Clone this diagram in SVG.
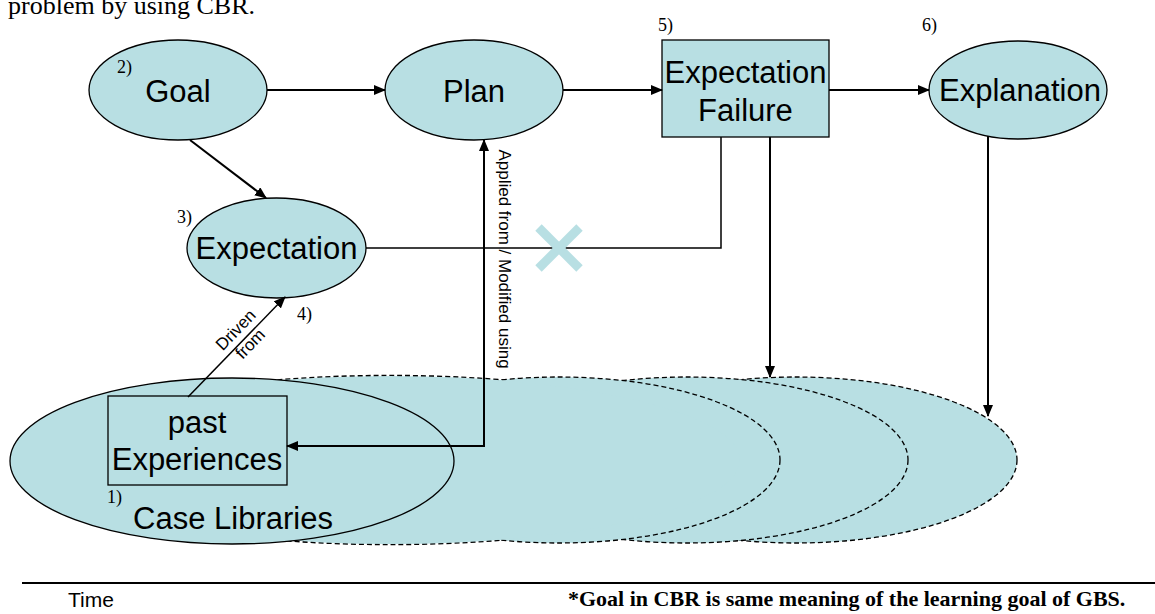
<svg xmlns="http://www.w3.org/2000/svg" width="1155" height="614" viewBox="0 0 1155 614">
<style>
.fill{fill:#b8dfe3;stroke:#000;stroke-width:1.3}
.dash{fill:#b8dfe3;stroke:#000;stroke-width:1.3;stroke-dasharray:5,3}
.dashline{fill:none;stroke:#000;stroke-width:2.6;stroke-dasharray:5,3}
.dashfill{fill:#b8dfe3;stroke:none}
.lbl{font-family:"Liberation Sans",Arial,sans-serif;font-size:31px;fill:#000;text-anchor:middle}
.num{font-family:"Liberation Serif","Times New Roman",serif;font-size:18px;fill:#000}
.small{font-family:"Liberation Sans",Arial,sans-serif;font-size:17px;fill:#000;text-anchor:middle}
.conn{fill:none;stroke:#000;stroke-width:2}
</style>
<defs>
<marker id="ah" markerWidth="12" markerHeight="10" refX="11" refY="5" orient="auto-start-reverse" markerUnits="userSpaceOnUse">
<path d="M0,0 L12,5 L0,10 z" fill="#000"/>
</marker>
<ellipse id="big" cx="390" cy="460" rx="350" ry="84"/>
</defs>
<rect width="1155" height="614" fill="#fff"/>
<text x="8" y="14" font-family="'Liberation Serif','Times New Roman',serif" font-size="26" fill="#000">problem by using CBR.</text>

<g id="case-libraries">
<use href="#big" class="dashline"/>
<ellipse class="dash" cx="796" cy="460" rx="221" ry="83"/>
<ellipse class="dash" cx="687" cy="460" rx="221" ry="83"/>
<ellipse class="dash" cx="559" cy="460" rx="221" ry="83"/>
<use href="#big" class="dashfill"/>
<ellipse class="fill" cx="232" cy="461" rx="222" ry="83"/>
<text class="lbl" x="233" y="529">Case Libraries</text>
<text class="num" x="107" y="503">1)</text>
</g>

<g id="past-experiences">
<rect class="fill" x="108" y="396" width="179" height="89"/>
<text class="lbl" x="197" y="433">past</text>
<text class="lbl" x="197" y="470">Experiences</text>
</g>

<g id="goal">
<ellipse class="fill" cx="178" cy="90" rx="89" ry="50"/>
<text class="lbl" x="178" y="102">Goal</text>
<text class="num" x="117" y="73">2)</text>
</g>

<g id="plan">
<ellipse class="fill" cx="474" cy="90" rx="89" ry="50"/>
<text class="lbl" x="474" y="102">Plan</text>
</g>

<g id="expectation-failure">
<rect class="fill" x="662" y="40" width="167" height="97"/>
<text class="lbl" x="745.5" y="83">Expectation</text>
<text class="lbl" x="745.5" y="121">Failure</text>
<text class="num" x="658" y="31">5)</text>
</g>

<g id="explanation">
<ellipse class="fill" cx="1018" cy="90" rx="89" ry="49"/>
<text class="lbl" x="1020" y="101">Explanation</text>
<text class="num" x="922" y="31">6)</text>
</g>

<g id="expectation">
<ellipse class="fill" cx="276.5" cy="248" rx="89.5" ry="50"/>
<text class="lbl" x="276.5" y="259">Expectation</text>
<text class="num" x="177" y="223">3)</text>
</g>

<g id="connectors">
<line class="conn" x1="267" y1="90" x2="385" y2="90" marker-end="url(#ah)"/>
<line class="conn" x1="563" y1="90" x2="662" y2="90" marker-end="url(#ah)"/>
<line class="conn" x1="829" y1="90" x2="929" y2="90" marker-end="url(#ah)"/>
<line class="conn" x1="190" y1="140" x2="266" y2="198" marker-end="url(#ah)"/>
<polyline class="conn" points="366,248 721,248 721,137" style="stroke-width:1.5"/>
<polyline class="conn" points="484,140 484,446 287,446" marker-start="url(#ah)" marker-end="url(#ah)"/>
<line class="conn" x1="770" y1="137" x2="770" y2="377" marker-end="url(#ah)"/>
<line class="conn" x1="988" y1="136" x2="988" y2="416" marker-end="url(#ah)"/>
<line class="conn" x1="188" y1="397" x2="285" y2="297" marker-end="url(#ah)" style="stroke-width:1.5"/>
<g stroke="#b8dfe3" stroke-width="9">
<line x1="538.5" y1="227.5" x2="579.5" y2="268.5"/>
<line x1="538.5" y1="268.5" x2="579.5" y2="227.5"/>
</g>
<text class="small" transform="translate(499,259) rotate(90)" x="0" y="0">Applied from / Modified using</text>
<g transform="translate(242,336) rotate(-46)">
<text class="small" x="0" y="-3">Driven</text>
<text class="small" x="0" y="17">from</text>
</g>
<text class="num" x="297" y="320">4)</text>
</g>

<line x1="22" y1="583" x2="1155" y2="583" stroke="#000" stroke-width="2"/>
<text x="68" y="607" font-family="'Liberation Sans',Arial,sans-serif" font-size="21" fill="#000">Time</text>
<text x="568" y="606" font-family="'Liberation Serif','Times New Roman',serif" font-size="22" font-weight="bold" fill="#000">*Goal in CBR is same meaning of the learning goal of GBS.</text>
</svg>
